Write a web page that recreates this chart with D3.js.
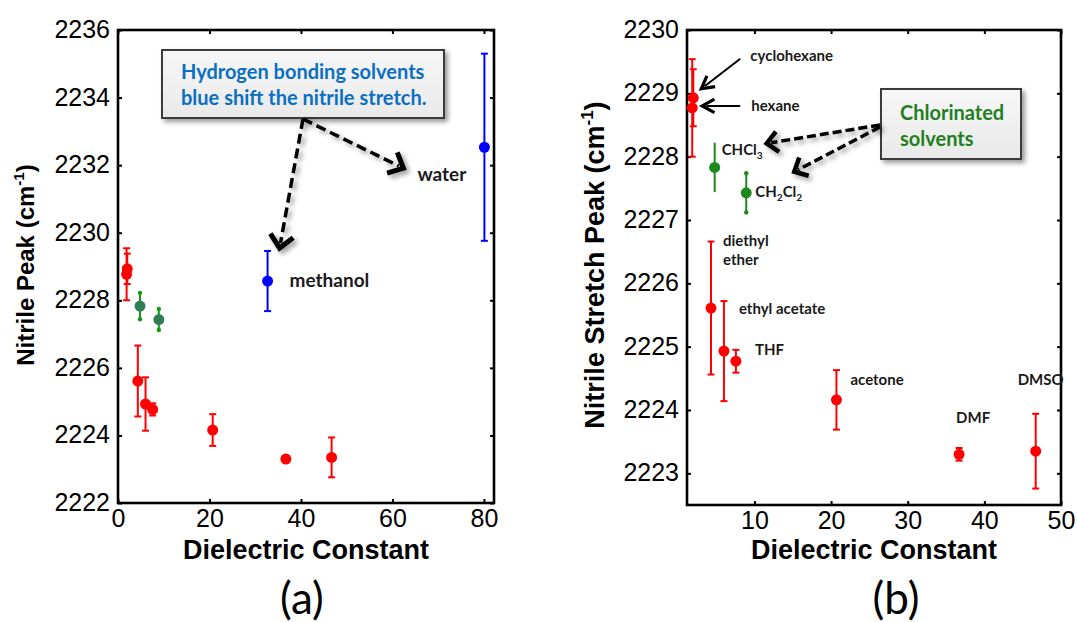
<!DOCTYPE html>
<html>
<head>
<meta charset="utf-8">
<script src="https://cdn.jsdelivr.net/npm/d3@7"></script>
<style>
  body { margin: 0; background: #fff; }
  svg text { font-family: "Liberation Sans", Arial, Helvetica, sans-serif; }
  .note { font-family: Lato, "Open Sans", sans-serif; font-weight: 700; fill: #1a1a1a; }
</style>
</head>
<body>
<svg id="fig" width="1077" height="622"></svg>
<script>
// Solvants aprotiques (rouge)
const aproticSolvents = ["cyclohexane", "hexane", "diethyl ether", "ethyl acetate", "THF", "acetone", "DMF", "DMSO"];
const aproticEps = [2.02, 1.88, 4.33, 6.02, 7.58, 20.7, 36.7, 46.7];
const aproticPeak = [2228.93, 2228.77, 2225.61, 2224.93, 2224.77, 2224.16, 2223.30, 2223.35];
const aproticErr = [0.45, 0.77, 1.05, 0.79, 0.18, 0.47, 0.10, 0.59];

// Solvants chlorés (vert)
const chlorinatedSolvents = ["CHCl3", "CH2Cl2"];
const chlorinatedEps = [4.81, 8.93];
const chlorinatedPeak = [2227.83, 2227.43];
const chlorinatedErr = [0.39, 0.31];

// Solvants à liaison hydrogène (bleu)
const hbondSolvents = ["methanol", "water"];
const hbondEps = [32.7, 80.1];
const hbondPeak = [2228.57, 2232.53];
const hbondErr = [0.89, 2.77];

// Graduations
const xTicksA = [0, 20, 40, 60, 80];
const yTicksA = [2222, 2224, 2226, 2228, 2230, 2232, 2234, 2236];
const xTicksB = [10, 20, 30, 40, 50];
const yTicksB = [2223, 2224, 2225, 2226, 2227, 2228, 2229, 2230];

const zip = (names, eps, peak, err) => names.map((n, i) => ({name: n, eps: eps[i], peak: peak[i], err: err[i]}));
const aprotic = zip(aproticSolvents, aproticEps, aproticPeak, aproticErr);
const chlorinated = zip(chlorinatedSolvents, chlorinatedEps, chlorinatedPeak, chlorinatedErr);
const hbond = zip(hbondSolvents, hbondEps, hbondPeak, hbondErr);

const svg = d3.select("#fig");
const defs = svg.append("defs");

const shadow = defs.append("filter").attr("id", "shadow")
  .attr("x", "-20%").attr("y", "-20%").attr("width", "150%").attr("height", "150%");
shadow.append("feDropShadow")
  .attr("dx", 3).attr("dy", 3).attr("stdDeviation", 2.5)
  .attr("flood-color", "#000").attr("flood-opacity", 0.4);

const grad = defs.append("linearGradient").attr("id", "boxfill")
  .attr("x1", 0).attr("y1", 0).attr("x2", 0).attr("y2", 1);
grad.append("stop").attr("offset", "0%").attr("stop-color", "#f7f7f7");
grad.append("stop").attr("offset", "100%").attr("stop-color", "#e9e9e9");

function arrow(g, x1, y1, x2, y2, o) {
  const ang = Math.atan2(y2 - y1, x2 - x1);
  const a = g.append("g").attr("filter", o.shadow ? "url(#shadow)" : null);
  a.append("line")
    .attr("x1", x1).attr("y1", y1)
    .attr("x2", x2 - Math.cos(ang) * o.head * 0.3)
    .attr("y2", y2 - Math.sin(ang) * o.head * 0.3)
    .attr("stroke", "#000").attr("stroke-width", o.width)
    .attr("stroke-dasharray", o.dash || null);
  const w1 = ang + Math.PI - o.spread, w2 = ang + Math.PI + o.spread;
  a.append("path")
    .attr("d", `M${x2 + Math.cos(w1) * o.head},${y2 + Math.sin(w1) * o.head}L${x2},${y2}L${x2 + Math.cos(w2) * o.head},${y2 + Math.sin(w2) * o.head}`)
    .attr("fill", "none").attr("stroke", "#000")
    .attr("stroke-width", o.headWidth).attr("stroke-linejoin", "miter");
}

function noteBox(g, x0, y0, x1, y1, lines, color, size, tx, ty, lh) {
  g.append("rect")
    .attr("x", x0).attr("y", y0).attr("width", x1 - x0).attr("height", y1 - y0)
    .attr("fill", "url(#boxfill)").attr("stroke", "#3a3a3a").attr("stroke-width", 2)
    .attr("filter", "url(#shadow)");
  lines.forEach((l, i) => {
    g.append("text").attr("class", "note")
      .attr("x", tx).attr("y", ty + i * lh)
      .style("fill", color).style("font-size", size + "px")
      .text(l);
  });
}

function solventLabel(g, name, px, py, size) {
  const t = g.append("text").attr("class", "note")
    .attr("x", px).attr("y", py).style("font-size", size + "px");
  const sub = s => t.append("tspan").attr("dy", 4).style("font-size", (size * 0.68) + "px").text(s);
  const up = s => t.append("tspan").attr("dy", -4).text(s);
  if (name === "CHCl3") { t.append("tspan").text("CHCl"); sub("3"); }
  else if (name === "CH2Cl2") { t.append("tspan").text("CH"); sub("2"); up("Cl"); sub("2"); }
  else t.text(name);
}

function drawPanel(p) {
  const g = svg.append("g");
  const x = d3.scaleLinear().domain(p.xDomain).range([p.left, p.right]);
  const y = d3.scaleLinear().domain(p.yDomain).range([p.bottom, p.top]);
  const fmt = d3.format("d");

  const styleAxis = sel => {
    sel.select(".domain").remove();
    sel.selectAll(".tick line").attr("stroke", "#000").attr("stroke-width", 2);
    sel.selectAll("text").attr("fill", "#000").style("font-size", "25px")
      .style("font-family", '"Liberation Sans", Arial, sans-serif');
  };

  g.append("g").attr("transform", `translate(0,${p.bottom})`)
    .call(d3.axisBottom(x).tickValues(p.xTicks).tickFormat(fmt).tickSize(-4).tickPadding(0))
    .call(styleAxis)
    .call(s => s.selectAll("text").attr("y", 24).attr("dy", null));
  g.append("g").attr("transform", `translate(${p.left},0)`)
    .call(d3.axisLeft(y).tickValues(p.yTicks).tickFormat(fmt).tickSize(-4).tickPadding(8))
    .call(styleAxis)
    .call(s => s.selectAll("text").attr("dy", "0.30em"));
  g.append("g").attr("transform", `translate(0,${p.top})`)
    .call(d3.axisTop(x).tickValues(p.xTicks).tickSize(-4).tickFormat(""))
    .call(styleAxis);
  g.append("g").attr("transform", `translate(${p.right},0)`)
    .call(d3.axisRight(y).tickValues(p.yTicks).tickSize(-4).tickFormat(""))
    .call(styleAxis);

  g.append("rect")
    .attr("x", p.left).attr("y", p.top)
    .attr("width", p.right - p.left).attr("height", p.bottom - p.top)
    .attr("fill", "none").attr("stroke", "#000").attr("stroke-width", 2.6);

  // barres d'erreur puis points
  p.series.forEach(s => {
    const sg = g.append("g");
    sg.selectAll("line.err").data(s.data).join("line").attr("class", "err")
      .attr("x1", d => x(d.eps)).attr("x2", d => x(d.eps))
      .attr("y1", d => y(d.peak - d.err)).attr("y2", d => y(d.peak + d.err))
      .attr("stroke", s.barColor).attr("stroke-width", 2);
    s.data.forEach(d => {
      const cap = s.cap(d);
      [d.peak - d.err, d.peak + d.err].forEach(v => {
        if (cap === "bar") {
          sg.append("line")
            .attr("x1", x(d.eps) - 3.5).attr("x2", x(d.eps) + 3.5)
            .attr("y1", y(v)).attr("y2", y(v))
            .attr("stroke", s.barColor).attr("stroke-width", 2);
        } else if (cap === "dot") {
          sg.append("circle").attr("cx", x(d.eps)).attr("cy", y(v)).attr("r", 2.2)
            .attr("fill", s.barColor);
        }
      });
    });
    sg.selectAll("circle.pt").data(s.data).join("circle").attr("class", "pt")
      .attr("cx", d => x(d.eps)).attr("cy", d => y(d.peak)).attr("r", 5.5)
      .attr("fill", s.color);
  });

  // titres d'axes
  g.append("text")
    .attr("x", (p.left + p.right) / 2).attr("y", 559)
    .attr("text-anchor", "middle")
    .style("font-size", "27px").style("font-weight", "bold")
    .text("Dielectric Constant");

  const yt = g.append("text")
    .attr("transform", `translate(${p.yTitleX},265) rotate(-90)`)
    .attr("text-anchor", "middle")
    .style("font-size", p.yTitleSize + "px").style("font-weight", "bold");
  yt.append("tspan").text(p.yTitle + " (cm");
  yt.append("tspan").attr("dy", -p.yTitleSize * 0.4).style("font-size", (p.yTitleSize * 0.63) + "px").text("-1");
  yt.append("tspan").attr("dy", p.yTitleSize * 0.4).text(")");

  g.append("text")
    .attr("x", p.panelX).attr("y", 614)
    .attr("text-anchor", "middle")
    .style("font-family", "Lato, 'Open Sans', sans-serif")
    .style("font-size", "44px").style("font-weight", 400)
    .text(p.panelLabel);

  return {g, x, y};
}

// (a) tous les solvants
const A = drawPanel({
  left: 118, right: 494, top: 30, bottom: 503,
  xDomain: [0, 82.2], yDomain: [2222, 2236],
  xTicks: xTicksA, yTicks: yTicksA,
  yTitle: "Nitrile Peak", yTitleX: 34, yTitleSize: 24, panelX: 302, panelLabel: "(a)",
  series: [
    {data: aprotic, color: "#ff0000", barColor: "#ff0000", cap: () => "bar"},
    {data: chlorinated, color: "#2e7d55", barColor: "#139a13", cap: () => "dot"},
    {data: hbond, color: "#0000ff", barColor: "#0000ff", cap: () => "bar"}
  ]
});

// (b) sans les solvants protiques
const B = drawPanel({
  left: 687, right: 1061, top: 30, bottom: 505,
  xDomain: [1.2, 50], yDomain: [2222.5, 2230],
  xTicks: xTicksB, yTicks: yTicksB,
  yTitle: "Nitrile Stretch Peak", yTitleX: 604, yTitleSize: 27, panelX: 896, panelLabel: "(b)",
  series: [
    {data: aprotic, color: "#ff0000", barColor: "#ff0000", cap: () => "bar"},
    {data: chlorinated, color: "#1b8a1b", barColor: "#1b8a1b", cap: d => d.name === "CH2Cl2" ? "dot" : "none"}
  ]
});

// Annotations (a)
const pt = (P, d) => [P.x(d.eps), P.y(d.peak)];
noteBox(A.g, 162, 50, 444, 118,
  ["Hydrogen bonding solvents", "blue shift the nitrile stretch."],
  "#0a6fc2", 20, 181, 79, 26);
const [mx, my] = pt(A, hbond[0]);
const [wx, wy] = pt(A, hbond[1]);
solventLabel(A.g, "methanol", mx + 22, my + 6, 19);
solventLabel(A.g, "water", wx - 67, wy + 34, 19);
const dashA = {width: 3.5, dash: "10,5", head: 17, spread: 0.75, headWidth: 5, shadow: true};
arrow(A.g, 303, 119, mx + 12, my - 33, dashA);
arrow(A.g, 303, 119, wx - 81, wy + 21, dashA);

// Annotations (b)
const offsetsB = {
  "cyclohexane": [57, -37], "hexane": [59, 3],
  "diethyl ether": [12, -62], "ethyl acetate": [15, -37], "THF": [19, -6],
  "acetone": [14, -15], "DMF": [-3, -31], "DMSO": [-18, -66],
  "CHCl3": [7, -12], "CH2Cl2": [9, 4]
};
aprotic.concat(chlorinated).forEach(d => {
  const [px, py] = pt(B, d);
  const [dx, dy] = offsetsB[d.name];
  if (d.name === "diethyl ether") {
    solventLabel(B.g, "diethyl", px + dx, py + dy, 15);
    solventLabel(B.g, "ether", px + dx, py + dy + 19, 15);
  } else {
    solventLabel(B.g, d.name, px + dx, py + dy, 15);
  }
});
const [cx, cy] = pt(B, aprotic[0]);
const [hx, hy] = pt(B, aprotic[1]);
const solidB = {width: 2, head: 14, spread: 0.5, headWidth: 3.2};
arrow(B.g, cx + 47, cy - 39, cx + 8, cy - 9, solidB);
arrow(B.g, hx + 48, hy - 2, hx + 10, hy - 2, solidB);

noteBox(B.g, 881, 89, 1021, 159, ["Chlorinated", "solvents"], "#1f7f1f", 20, 900, 120, 26);
const [c1x, c1y] = pt(B, chlorinated[0]);
const [c2x, c2y] = pt(B, chlorinated[1]);
const dashB = {width: 3.5, dash: "9,4", head: 15, spread: 0.75, headWidth: 4.5, shadow: true};
arrow(B.g, 880, 125, c1x + 52, c1y - 24, dashB);
arrow(B.g, 880, 127, c2x + 48, c2y - 21, dashB);
</script>
</body>
</html>
